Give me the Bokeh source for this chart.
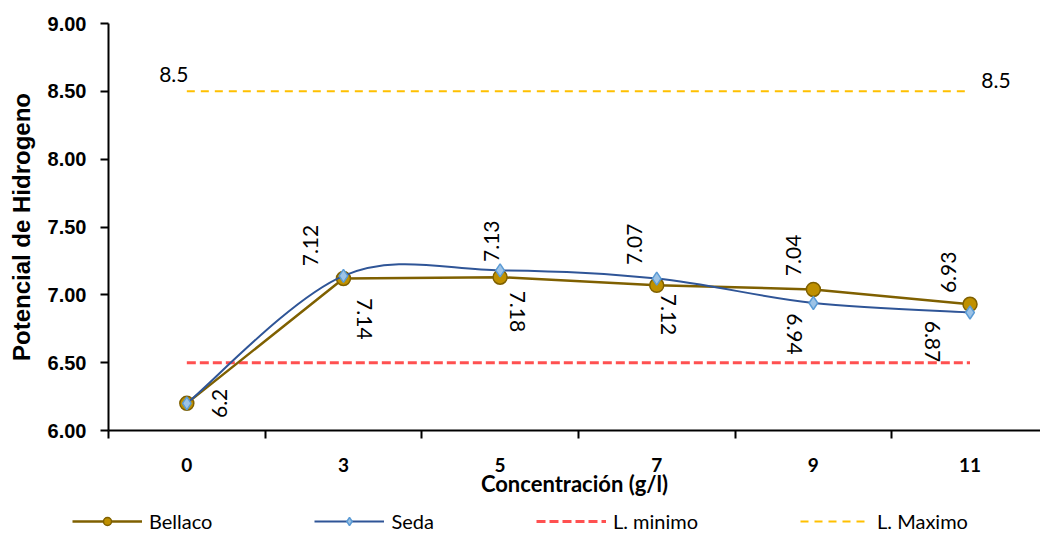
import numpy as np
from bokeh.plotting import figure
from bokeh.layouts import column, row
from bokeh.models import (ColumnDataSource, Range1d, FixedTicker, Legend, LegendItem)
from bokeh.core.properties import value
from bokeh.embed import file_html
from bokeh.resources import INLINE

# ---- data ----
categories = ["0", "3", "5", "7", "9", "11"]
bellaco = [6.2, 7.12, 7.13, 7.07, 7.04, 6.93]
seda = [6.2, 7.14, 7.18, 7.12, 6.94, 6.87]
l_minimo = [6.5, 6.5, 6.5, 6.5, 6.5, 6.5]
l_maximo = [8.5, 8.5, 8.5, 8.5, 8.5, 8.5]
y_ticks = [6.0, 6.5, 7.0, 7.5, 8.0, 8.5, 9.0]

# label offsets in screen px (positive = right / down) - styling only
bel_dx = [33, -33, -9, -22, -20, -22]
bel_dy = [0, -33, -36, -41, -34, -32]
sed_dx = [0, 21, 17, 12, -19, -38]
sed_dy = [0, 43, 41, 36, 31, 29]

FONT = "Lato"
AFONT = "Liberation Sans"
xs = list(range(len(categories)))

p = figure(width=1040, height=500, output_backend="svg", toolbar_location=None,
           x_range=Range1d(-0.5, 5.45), y_range=Range1d(6.0, 9.0),
           min_border_left=108, min_border_right=0, min_border_top=23,
           min_border_bottom=70)
p.outline_line_color = None
p.grid.visible = False
p.background_fill_color = "white"

# x axis: labels at category centres, tick marks between categories
xa = p.xaxis[0]
xa.ticker = FixedTicker(ticks=xs, minor_ticks=[i - 0.5 for i in range(7)])
xa.major_label_overrides = {i: c for i, c in enumerate(categories)}
xa.major_tick_out = 0
xa.major_tick_in = 0
xa.minor_tick_out = 8
xa.minor_tick_in = 0
xa.minor_tick_line_color = "black"
xa.minor_tick_line_width = 2
xa.axis_line_width = 2
xa.axis_line_color = "black"
xa.major_label_standoff = 19
xa.major_label_text_font = FONT
xa.major_label_text_font_style = "bold"
xa.major_label_text_font_size = "19px"
xa.major_label_text_color = "black"
xa.axis_label = "Concentración (g/l)"
xa.axis_label_text_font = FONT
xa.axis_label_text_font_style = "bold"
xa.axis_label_text_font_size = "22px"
xa.axis_label_text_color = "black"
xa.axis_label_standoff = -5

ya = p.yaxis[0]
ya.ticker = FixedTicker(ticks=y_ticks, minor_ticks=[])
ya.major_label_overrides = {t: f"{t:.2f}" for t in y_ticks}
ya.major_tick_out = 8
ya.major_tick_in = 0
ya.major_tick_line_width = 2
ya.axis_line_width = 2
ya.axis_line_color = "black"
ya.major_label_standoff = 14
ya.major_label_text_font = AFONT
ya.major_label_text_font_style = "bold"
ya.major_label_text_font_size = "20px"
ya.major_label_text_color = "black"
ya.axis_label = "Potencial de Hidrogeno"
ya.axis_label_text_font = AFONT
ya.axis_label_text_font_style = "bold"
ya.axis_label_text_font_size = "24px"
ya.axis_label_text_color = "black"
ya.axis_label_standoff = 10

# limit lines
p.line(xs, l_minimo, line_color="#FF5050", line_width=3, line_dash="9 4")
p.line(xs, l_maximo, line_color="#FFC000", line_width=2, line_dash="8 6")

# Seda smoothed line (Catmull-Rom style bezier through the points)
xa_ = np.array(xs, dtype=float)
ya_ = np.array(seda, dtype=float)
n = len(xa_)
def pt(i):
    i = min(max(i, 0), n - 1)
    return xa_[i], ya_[i]
bx0, by0, bx1, by1, c0x, c0y, c1x, c1y = [], [], [], [], [], [], [], []
for i in range(n - 1):
    pm, p0, p1, p2 = pt(i - 1), pt(i), pt(i + 1), pt(i + 2)
    bx0.append(p0[0]); by0.append(p0[1]); bx1.append(p1[0]); by1.append(p1[1])
    c0x.append(p0[0] + (p1[0] - pm[0]) / 6); c0y.append(p0[1] + (p1[1] - pm[1]) / 6)
    c1x.append(p1[0] - (p2[0] - p0[0]) / 6); c1y.append(p1[1] - (p2[1] - p0[1]) / 6)

BEL_LINE = dict(line_color="#7F6000", line_width=2.5)
BEL_MARK = dict(marker="circle", size=14, fill_color="#BF9000", line_color="#7F6000", line_width=1.5)
SED_LINE = dict(line_color="#2F5597", line_width=2)
SED_MARK = dict(marker="diamond", size=13, fill_color="#9DC3E6", line_color="#5B9BD5", line_width=1.5)

# Bellaco
p.line(xs, bellaco, **BEL_LINE)
p.scatter(xs, bellaco, **BEL_MARK)
# Seda
p.bezier(x0=bx0, y0=by0, x1=bx1, y1=by1, cx0=c0x, cy0=c0y, cx1=c1x, cy1=c1y, **SED_LINE)
p.scatter(xs, seda, **SED_MARK)

LBL = dict(text_align="center", text_baseline="middle", text_font=value(FONT),
           text_font_size="21px", text_color="black")
# data labels
bel_src = ColumnDataSource(dict(x=xs, y=bellaco, t=[f"{v:g}" for v in bellaco],
                                dx=bel_dx, dy=bel_dy))
p.text(x="x", y="y", text="t", source=bel_src, x_offset="dx", y_offset="dy",
       angle=np.pi / 2, **LBL)
sed_idx = [1, 2, 3, 4, 5]
sed_src = ColumnDataSource(dict(x=[xs[i] for i in sed_idx], y=[seda[i] for i in sed_idx],
                                t=[f"{seda[i]:g}" for i in sed_idx],
                                dx=[sed_dx[i] for i in sed_idx], dy=[sed_dy[i] for i in sed_idx]))
p.text(x="x", y="y", text="t", source=sed_src, x_offset="dx", y_offset="dy",
       angle=-np.pi / 2, **LBL)

# limit labels
max_src = ColumnDataSource(dict(x=[xs[0], xs[-1]], y=[l_maximo[0], l_maximo[-1]],
                                t=[f"{l_maximo[0]:g}", f"{l_maximo[-1]:g}"],
                                dx=[-13, 26], dy=[-17, -11]))
p.text(x="x", y="y", text="t", source=max_src, x_offset="dx", y_offset="dy", **LBL)

# ---- legend row (separate strip below the chart) ----
q = figure(width=1040, height=33, output_backend="svg", toolbar_location=None,
           x_range=Range1d(0, 1), y_range=Range1d(0, 1), min_border=0)
q.outline_line_color = None
q.axis.visible = False
q.grid.visible = False
# renderers drawn out of this strip's view; only their legend glyphs are visible
lb1 = q.line(xs, bellaco, **BEL_LINE)
lb2 = q.scatter(xs, bellaco, **BEL_MARK)
ls1 = q.line(xs, seda, **SED_LINE)
ls2 = q.scatter(xs, seda, **SED_MARK)
lmin = q.line(xs, l_minimo, line_color="#FF5050", line_width=3, line_dash="9 4")
lmax = q.line(xs, l_maximo, line_color="#FFC000", line_width=2, line_dash="8 6")

legend = Legend(items=[
    LegendItem(label="Bellaco", renderers=[lb1, lb2]),
    LegendItem(label="Seda", renderers=[ls1, ls2]),
    LegendItem(label="L. minimo", renderers=[lmin]),
    LegendItem(label="L. Maximo", renderers=[lmax]),
], orientation="horizontal", location=(72, 0))
legend.glyph_width = 70
legend.glyph_height = 20
legend.label_standoff = 7
legend.spacing = 102
legend.label_text_font = FONT
legend.label_text_font_size = "20px"
legend.label_text_color = "black"
legend.border_line_color = None
legend.background_fill_alpha = 0
legend.padding = 0
legend.margin = 0
q.add_layout(legend, "center")

open("out.html", "w").write(file_html(column(p, row(q), spacing=0), INLINE))
